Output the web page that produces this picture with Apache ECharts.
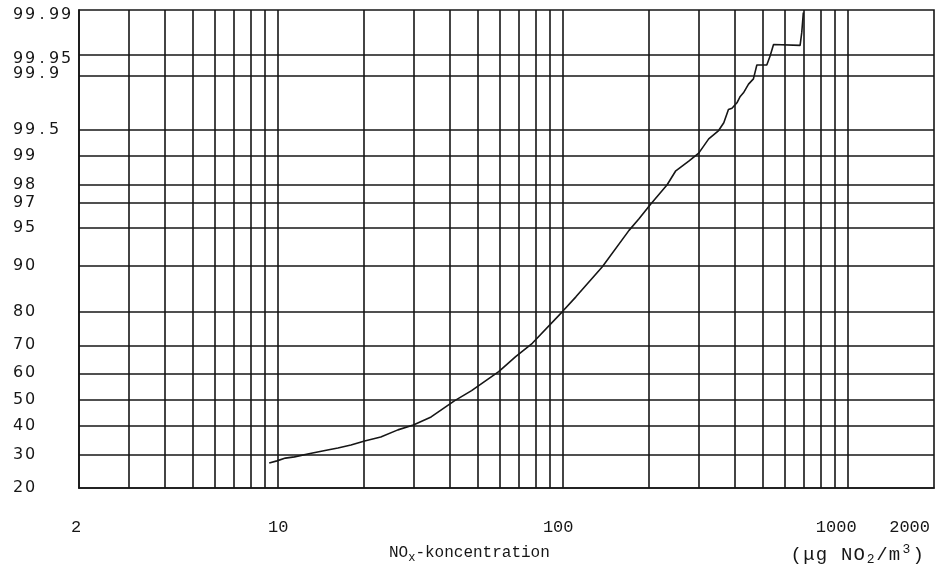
<!DOCTYPE html>
<html>
<head>
<meta charset="utf-8">
<script src="https://cdn.jsdelivr.net/npm/echarts@6.0.0/dist/echarts.min.js"></script>
<style>
  html, body { margin: 0; padding: 0; background: #fff; }
  #chart { width: 938px; height: 574px; }
</style>
</head>
<body>
<div id="chart"></div>
<script>
// ---- data ----
// NOx concentration (µg NO2/m3) along the cumulative frequency curve
const concentration = [9.3, 9.9, 10.6, 11.4, 13.2, 14.9, 16.2, 18.0, 20.1, 22.9, 26.3, 29.8, 34.4, 41.5, 47.7,
  59.4, 68.1, 77.9, 99.4, 110.8, 137.2, 170.2, 184.5, 202.6, 231.6, 247.7, 275.8, 298.9, 324, 351,
  366, 380, 391, 407, 418, 429, 447, 465, 478, 518, 532, 547, 678, 687, 696];
// cumulative frequency (%)
const cumulativePct = [27.3, 28.0, 28.9, 29.3, 30.6, 31.6, 32.3, 33.3, 34.7, 36.1, 38.7, 40.5, 43.5, 49.6, 53.5,
  60.6, 66.0, 70.5, 80.0, 83.7, 89.8, 94.7, 95.8, 96.9, 97.99, 98.54, 98.86, 99.07, 99.36, 99.49,
  99.59, 99.72, 99.73, 99.77, 99.81, 99.83, 99.87, 99.89, 99.93, 99.93, 99.948, 99.965, 99.964, 99.977, 99.989];

// probability-axis tick labels (%)
const yTickLabels = ['20', '30', '40', '50', '60', '70', '80', '90', '95', '97', '98', '99', '99.5', '99.9', '99.95', '99.99'];
// log-axis grid values
const xGridValues = [3, 4, 5, 6, 7, 8, 9, 10, 20, 30, 40, 50, 60, 70, 80, 90, 100,
  200, 300, 400, 500, 600, 700, 800, 900, 1000];
const xMin = 2, xMax = 2000;

// inverse standard normal CDF (probability paper transform)
function probit(p) {
  const a = [-3.969683028665376e+01, 2.209460984245205e+02, -2.759285104469687e+02, 1.383577518672690e+02, -3.066479806614716e+01, 2.506628277459239e+00];
  const b = [-5.447609879822406e+01, 1.615858368580409e+02, -1.556989798598866e+02, 6.680131188771972e+01, -1.328068155288572e+01];
  const c = [-7.784894002430293e-03, -3.223964580411365e-01, -2.400758277161838e+00, -2.549732539343734e+00, 4.374664141464968e+00, 2.938163982698783e+00];
  const d = [7.784695709041462e-03, 3.224671290700398e-01, 2.445134137142996e+00, 3.754408661907416e+00];
  const pl = 0.02425, ph = 1 - pl;
  let q, r;
  if (p < pl) {
    q = Math.sqrt(-2 * Math.log(p));
    return (((((c[0]*q+c[1])*q+c[2])*q+c[3])*q+c[4])*q+c[5]) / ((((d[0]*q+d[1])*q+d[2])*q+d[3])*q+1);
  }
  if (p <= ph) {
    q = p - 0.5; r = q * q;
    return (((((a[0]*r+a[1])*r+a[2])*r+a[3])*r+a[4])*r+a[5])*q / (((((b[0]*r+b[1])*r+b[2])*r+b[3])*r+b[4])*r+1);
  }
  q = Math.sqrt(-2 * Math.log(1 - p));
  return -(((((c[0]*q+c[1])*q+c[2])*q+c[3])*q+c[4])*q+c[5]) / ((((d[0]*q+d[1])*q+d[2])*q+d[3])*q+1);
}
const z = pct => probit(parseFloat(pct) / 100);

const yTickValues = yTickLabels.map(z);
const yMin = yTickValues[0], yMax = yTickValues[yTickValues.length - 1];
const yGridLabels = yTickLabels.slice(1, -1);

function nearestLabel(v) {
  let best = 0, bd = Infinity;
  yTickValues.forEach((t, i) => { const dd = Math.abs(t - v); if (dd < bd) { bd = dd; best = i; } });
  return yTickLabels[best];
}

const INK = '#161616';
const gridLine = { color: INK, width: 1.6, type: 'solid' };

// units title, typewriter-spaced
const unitsText = '{w|(}{w|μ}{w|g}{w| }{w|N}{w|O}{s|2}{w|/}{w|m}{u|3}{w|)}';

const chart = echarts.init(document.getElementById('chart'), null, { renderer: 'canvas' });
chart.setOption({
  animation: false,
  backgroundColor: '#ffffff',
  title: [
    {
      text: 'NO{s|x}-koncentration',
      left: 389, top: 542, padding: 0,
      textStyle: {
        fontFamily: 'Liberation Mono', fontSize: 16, fontWeight: 'normal', color: INK,
        rich: { s: { fontFamily: 'Liberation Mono', fontSize: 12, color: INK, padding: [10, 0, 0, 0] } }
      }
    },
    {
      text: unitsText,
      left: 790, top: 543, padding: 0,
      textStyle: {
        fontFamily: 'Liberation Mono', fontSize: 19, fontWeight: 'normal', color: INK,
        rich: {
          w: { fontFamily: 'Liberation Mono', fontSize: 19, color: INK, width: 12.6, align: 'center' },
          s: { fontFamily: 'Liberation Mono', fontSize: 13, color: INK, width: 10, align: 'center', padding: [10, 0, 0, 0] },
          u: { fontFamily: 'Liberation Mono', fontSize: 13, color: INK, width: 11, align: 'center', padding: [0, 0, 10, 0] }
        }
      }
    }
  ],
  grid: {
    left: 79, top: 10, width: 855, height: 478,
    show: true, borderColor: INK, borderWidth: 1.6, backgroundColor: 'transparent'
  },
  xAxis: {
    type: 'log', logBase: 10, min: xMin, max: xMax,
    axisLine: { show: true, onZero: false, lineStyle: { color: INK, width: 1.6 } },
    axisTick: { show: false },
    splitLine: { show: false },
    minorTick: { show: false },
    axisLabel: {
      show: true, showMinLabel: true, showMaxLabel: true,
      alignMaxLabel: 'right',
      margin: 31,
      fontFamily: 'Liberation Mono', fontSize: 17, color: INK,
      formatter: function (v) {
        const n = Math.round(v);
        if (n === 2) return '{a|2}';
        if (n === 100) return '{b|100}';
        if (n === 1000) return '{c|1000}';
        if (n === 2000) return '{d|2000}';
        return String(n);
      },
      rich: {
        a: { fontFamily: 'Liberation Mono', fontSize: 17, color: INK, padding: [0, 6, 0, 0] },
        b: { fontFamily: 'Liberation Mono', fontSize: 17, color: INK, padding: [0, 10, 0, 0] },
        c: { fontFamily: 'Liberation Mono', fontSize: 17, color: INK, padding: [0, 24, 0, 0] },
        d: { fontFamily: 'Liberation Mono', fontSize: 17, color: INK, padding: [0, 4, 0, 0] }
      }
    }
  },
  yAxis: {
    type: 'value', min: yMin, max: yMax,
    axisLine: { show: true, onZero: false, lineStyle: { color: INK, width: 1.6 } },
    axisTick: { show: false },
    splitLine: { show: false },
    axisLabel: {
      show: true, showMinLabel: true, showMaxLabel: true,
      customValues: yTickValues,
      align: 'left', margin: 67,
      fontFamily: 'DejaVu Sans', fontSize: 16, color: INK,
      formatter: function (v) {
        const lab = nearestLabel(v);
        let st = 'c';
        if (lab === '99.99') st = 'd';
        else if (lab === '99.95') st = 'e';
        else if (lab === '99.9') st = 'u';
        return lab.split('').map(ch => '{' + st + '|' + ch + '}').join('');
      },
      rich: {
        c: { fontFamily: 'DejaVu Sans', fontSize: 16, color: INK, width: 12, align: 'center' },
        d: { fontFamily: 'DejaVu Sans', fontSize: 16, color: INK, width: 12, align: 'center', padding: [10, 0, 0, 0] },
        e: { fontFamily: 'DejaVu Sans', fontSize: 16, color: INK, width: 12, align: 'center', padding: [8, 0, 0, 0] },
        u: { fontFamily: 'DejaVu Sans', fontSize: 16, color: INK, width: 12, align: 'center', padding: [0, 0, 4, 0] }
      }
    }
  },
  series: [
    {
      name: 'grid',
      type: 'line',
      data: [],
      silent: true,
      z: 1,
      markLine: {
        silent: true,
        symbol: ['none', 'none'],
        label: { show: false },
        lineStyle: gridLine,
        emphasis: { disabled: true },
        z: 1,
        data: xGridValues.map(v => ({ xAxis: v }))
          .concat(yGridLabels.map(l => ({ yAxis: z(l) })))
      }
    },
    {
      name: 'NOx',
      type: 'line',
      z: 10,
      showSymbol: false,
      symbol: 'none',
      lineStyle: { color: INK, width: 1.6 },
      data: concentration.map((x, i) => [x, z(cumulativePct[i])])
    }
  ]
});
</script>
</body>
</html>
